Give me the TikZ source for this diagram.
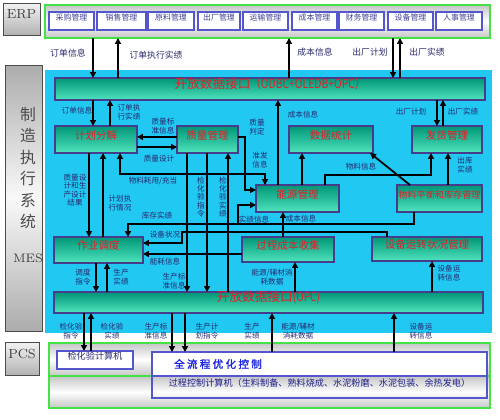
\documentclass[tikz,border=0pt]{standalone}
\usepackage{fontspec}
\newfontfamily\cjk{Noto Sans CJK SC}
\newfontfamily\cjkwide[LetterSpace=22,FakeBold=1.6]{Noto Sans CJK SC}
\usetikzlibrary{fit, arrows.meta}

\definecolor{mesblue}{RGB}{32,200,242}
\definecolor{boxline}{RGB}{70,60,140}
\definecolor{boxred}{RGB}{228,30,40}
\definecolor{labnavy}{RGB}{40,40,110}
\definecolor{tealdark}{RGB}{0,150,118}
\definecolor{teallight}{RGB}{80,228,190}
\definecolor{frgreen}{RGB}{70,225,70}
\definecolor{itemblue}{RGB}{85,85,205}
\definecolor{optblue}{RGB}{25,35,225}

\begin{document}
\begin{tikzpicture}[x=0.02cm, y=-0.02cm,
 every node/.style={inner sep=0pt, outer sep=0pt},
 mbox/.style={draw=boxline, line width=0.8pt, top color=tealdark, bottom color=teallight, text=boxred, font=\cjk\fontsize{6}{7}\selectfont},
 bar/.style={mbox, font=\cjk\fontsize{7.2}{8}\selectfont},
 item/.style={draw=itemblue, line width=0.6pt, fill=white, text=itemblue!75!black, font=\cjk\fontsize{4.5}{5}\selectfont},
 side/.style={draw=gray!60!black, line width=0.5pt, top color=gray!10, bottom color=gray!60, text=black!75, font=\fontsize{7.5}{8}\selectfont},
 frame/.style={draw=frgreen, line width=0.8pt, top color=gray!45, bottom color=gray!45, middle color=white},
 lbl/.style={text=labnavy, align=center, font=\cjk\fontsize{4.3}{4.8}\selectfont},
 erplbl/.style={lbl, font=\cjk\fontsize{5}{6}\selectfont},
 arr/.style={line width=1pt, -{Triangle[length=3.4pt,width=3.4pt]}},
 dbl/.style={line width=1pt, {Triangle[length=3.4pt,width=3.4pt]}-{Triangle[length=3.4pt,width=3.4pt]}}
]
\useasboundingbox (0,0) rectangle (500,419);

% 左侧层次标签
\node[side, fit={(3,3)(40,35)}] (erplab) {ERP};
\node[side, top color=gray!65, bottom color=gray!65, middle color=gray!5, fit={(5,65)(42,331)}] (meslab) {};
\node[text=black!70, align=center, font=\cjk\fontsize{9}{12.2}\selectfont] (mestext) at (28,168) {制\\造\\执\\行\\系\\统};
\node[text=black!75, font=\fontsize{7}{8}\selectfont] (mesname) at (28,258) {MES};
\node[side, fit={(5,342)(39,375)}] (pcslab) {PCS};

% ERP
\node[frame, fit={(45,5)(490,38)}] (erp) {};
\node[item, fit={(49,12)(94,30)}] (e1) {采购管理};
\node[item, fit={(97,12)(146,30)}] (e2) {销售管理};
\node[item, fit={(148,12)(194,30)}] (e3) {原料管理};
\node[item, fit={(198,12)(240,30)}] (e4) {出厂管理};
\node[item, fit={(243,12)(288,30)}] (e5) {运输管理};
\node[item, fit={(292,12)(337,30)}] (e6) {成本管理};
\node[item, fit={(339,12)(384,30)}] (e7) {财务管理};
\node[item, fit={(388,12)(433,30)}] (e8) {设备管理};
\node[item, fit={(436,12)(482,30)}] (e9) {人事管理};

% MES
\fill[mesblue] (45,70) rectangle (492,333);
\node[bar, fit={(55,78)(485,100)}] (topbar) {开放数据接口\scalebox{0.82}[1]{（ODBC+OLEDB+OPC）}};
\node[mbox, fit={(55,126)(137,153)}] (plan) {计划分解};
\node[mbox, fit={(177,126)(238,153)}] (quality) {质量管理};
\node[mbox, fit={(289,126)(373,153)}] (stats) {数据统计};
\node[mbox, fit={(412,126)(482,153)}] (ship) {发货管理};
\node[mbox, fit={(256,185)(339,212)}] (energy) {能源管理};
\node[mbox, font=\cjk\fontsize{5.2}{6}\selectfont, fit={(397,185)(482,212)}] (stock) {物料平衡和库存管理};
\node[mbox, fit={(54,237)(143,263)}] (sched) {作业调度};
\node[mbox, fit={(242,237)(334,262)}] (cost) {过程成本收集};
\node[mbox, fit={(372,237)(482,261)}] (equip) {设备运转状况管理};
\node[bar, fit={(54,292)(483,313)}] (botbar) {开放数据接口\scalebox{0.8}[1]{(OPC)}};

% PCS
\node[frame, fit={(49,343)(490,376)}] (pcsa) {};
\node[frame, fit={(49,376)(490,408)}] (pcsb) {};
\node[item, text=labnavy, font=\cjk\fontsize{5.2}{6}\selectfont, fit={(57,351)(133,369)}] (lab) {检化验计算机};
\node[item, fit={(152,352)(487,376)}] (opt) {};
\node[text=optblue, font=\cjkwide\fontsize{6}{7}\selectfont] (opttext) at (218,364) {全流程优化控制};
\node[item, fill=none, text=labnavy!80!blue, font=\cjk\fontsize{5.2}{6}\selectfont, fit={(152,376)(487,398)}] (proc) {过程控制计算机（生料制备、熟料烧成、水泥粉磨、水泥包装、余热发电）};

% ERP与MES之间
\draw[arr] (erp.south -| 93,0) -- (topbar.north -| 93,0);
\draw[arr] (topbar.north -| 118,0) -- (erp.south -| 118,0);
\draw[arr] (topbar.north -| 289,0) -- (erp.south -| 289,0);
\draw[arr] (erp.south -| 393,0) -- (topbar.north -| 393,0);
\draw[arr] (topbar.north -| 400,0) -- (erp.south -| 400,0);
\node[erplbl] (a1) at (68,53) {订单信息};
\node[erplbl] (a2) at (156,55) {订单执行实绩};
\node[erplbl] (a3) at (315,52) {成本信息};
\node[erplbl] (a4) at (370,52) {出厂计划};
\node[erplbl] (a5) at (427,52) {出厂实绩};

% MES内部
\draw[arr] (topbar.south -| 93,0) -- (plan.north -| 93,0);
\draw[arr] (plan.north -| 110,0) -- (topbar.south -| 110,0);
\draw[arr] (quality.west |- 0,137) -- (plan.east |- 0,137);
\draw[arr] (plan.east |- 0,147) -- (quality.west |- 0,147);
\draw[arr] (quality.east |- 0,137) -- (245,137) -- (245,190) -- (energy.west |- 0,190);
\draw[dbl] (plan.south -| 120,0) -- (120,174) -- (265,174) -- (energy.north -| 265,0);
\draw[arr] (plan.south -| 89,0) -- (sched.north -| 89,0);
\draw[arr] (sched.north -| 103,0) -- (plan.south -| 103,0);
\draw[arr] (quality.south -| 187,0) -- (botbar.north -| 187,0);
\draw[arr] (quality.south -| 207,0) -- (botbar.north -| 207,0);
\draw[arr] (botbar.north -| 228,0) -- (quality.south -| 228,0);
\draw[arr] (energy.north -| 278,0) -- (topbar.south -| 278,0);
\draw[arr] (energy.north -| 302,0) -- (stats.south -| 302,0);
\draw[arr] (energy.north -| 325,0) -- (325,175) -- (431,175) -- (ship.south -| 431,0);
\draw[arr] (stock.north -| 410,0) -- (stats.south -| 370,0);
\draw[arr] (stock.north -| 448,0) -- (ship.south -| 448,0);
\draw[arr] (topbar.south -| 437,0) -- (ship.north -| 437,0);
\draw[arr] (ship.north -| 443,0) -- (topbar.south -| 443,0);
\draw[arr] (stock.south -| 414,0) -- (414,224) -- (128,224) -- (sched.north -| 128,0);
\coordinate (jct) at (238,224);
\draw[arr] (jct) -- (238,205) -- (energy.west |- 0,205);
\draw[arr] (equip.north -| 387,0) -- (387,232) -- (182,232) -- (182,243) -- (sched.east |- 0,243);
\draw[arr] (cost.north -| 283,0) -- (energy.south -| 283,0);
\draw[arr] (cost.west |- 0,254) -- (sched.east |- 0,254);
\draw[arr] (sched.south -| 96,0) -- (botbar.north -| 96,0);
\draw[arr] (botbar.north -| 107,0) -- (sched.south -| 107,0);
\draw[arr] (botbar.north -| 295,0) -- (cost.south -| 295,0);
\draw[arr] (botbar.north -| 432,0) -- (equip.south -| 432,0);

\node[lbl] (b1) at (77,111) {订单信息};
\node[lbl] (b2) at (129,112) {订单执\\行实绩};
\node[lbl] (b3) at (163,126) {质量标\\准信息};
\node[lbl] (b4) at (159,159) {质量设计};
\node[lbl] (b5) at (153,181) {物料耗用/充当};
\node[lbl] (b6) at (75,190) {质量设\\计和生\\产设计\\结果};
\node[lbl] (b7) at (120,203) {计划执\\行情况};
\node[lbl] (b8) at (157,216) {库存实绩};
\node[lbl] (b9) at (165,235) {设备状况};
\node[lbl] (b10) at (165,262) {能耗信息};
\node[lbl] (b11) at (201,197) {检\\化\\验\\指\\令};
\node[lbl] (b12) at (223,197) {检\\化\\验\\实\\绩};
\node[lbl] (b13) at (257,127) {质量\\判定};
\node[lbl] (b14) at (260,160) {准发\\信息};
\node[lbl] (b15) at (303,115) {成本信息};
\node[lbl] (b16) at (411,112) {出厂计划};
\node[lbl] (b17) at (463,112) {出厂实绩};
\node[lbl] (b18) at (361,167) {物料信息};
\node[lbl] (b19) at (465,165) {出库\\实绩};
\node[lbl] (b20) at (254,220) {实绩信息};
\node[lbl] (b21) at (301,219) {成本信息};
\node[lbl] (b22) at (83,277) {调度\\指令};
\node[lbl] (b23) at (121,277) {生产\\实绩};
\node[lbl] (b24) at (174,281) {生产标\\准信息};
\node[lbl] (b25) at (272,277) {能源/辅材消\\耗数据};
\node[lbl] (b26) at (449,273) {设备运\\转信息};

% MES与PCS之间
\draw[arr] (botbar.south -| 84,0) -- (lab.north -| 84,0);
\draw[arr] (lab.north -| 91,0) -- (botbar.south -| 91,0);
\draw[arr] (botbar.south -| 172,0) -- (opt.north -| 172,0);
\draw[arr] (botbar.south -| 185,0) -- (opt.north -| 185,0);
\draw[arr] (opt.north -| 272,0) -- (botbar.south -| 272,0);
\draw[arr] (opt.north -| 394,0) -- (botbar.south -| 394,0);
\node[lbl] (c1) at (71,331) {检化验\\指令};
\node[lbl] (c2) at (112,331) {检化验\\实绩};
\node[lbl] (c3) at (156,331) {生产标\\准信息};
\node[lbl] (c4) at (207,331) {生产计\\划指令};
\node[lbl] (c5) at (252,331) {生产\\实绩};
\node[lbl] (c6) at (298,331) {能源/辅材\\消耗数据};
\node[lbl] (c7) at (421,331) {设备运\\转信息};
\end{tikzpicture}
\end{document}
